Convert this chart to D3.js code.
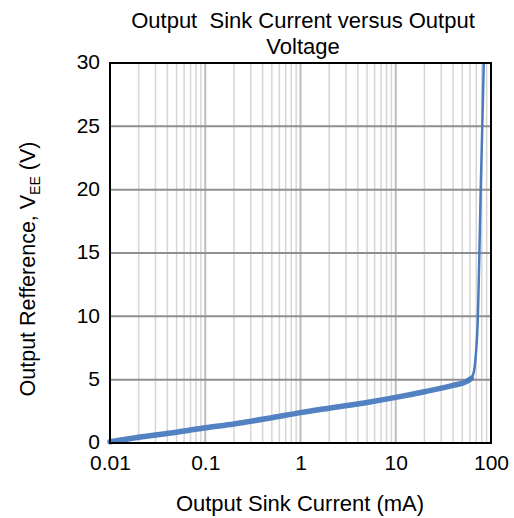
<!DOCTYPE html>
<html><head><meta charset="utf-8">
<script src="https://cdn.jsdelivr.net/npm/d3@7"></script>
<style>body{margin:0;background:#fff}svg{display:block}text{font-family:"Liberation Sans",Arial,sans-serif;fill:#000}</style>
</head><body>
<script>
const currentMA = [0.01,0.02,0.05,0.1,0.2,0.5,1,2,5,10,20,40,55,62,66,69,72,75,78,81,84];
const voltageV  = [0.1,0.45,0.85,1.2,1.5,2.0,2.4,2.75,3.2,3.6,4.05,4.55,4.85,5.1,5.6,6.8,9,14,20,25,30];
const xTicks = [0.01,0.1,1,10,100];
const xTickLabels = ["0.01","0.1","1","10","100"];
const yTicks = [0,5,10,15,20,25,30];
const titleLines = ["Output  Sink Current versus Output","Voltage"];
const xLabel = "Output Sink Current (mA)";

const W=514,H=518,L=110,R=491,T=63,B=443;
const svg=d3.select("body").append("svg").attr("width",W).attr("height",H);
const x=d3.scaleLog().domain([0.01,100]).range([L,R]);
const y=d3.scaleLinear().domain([0,30]).range([B,T]);

const minor=[];
for(let e=-2;e<2;e++){for(let m=2;m<=9;m++)minor.push(m*Math.pow(10,e));}
svg.append("g").selectAll("line").data(minor).join("line")
 .attr("x1",d=>x(d)).attr("x2",d=>x(d)).attr("y1",T).attr("y2",B)
 .attr("stroke","#d6d6d6").attr("stroke-width",1.5);
svg.append("g").selectAll("line").data(xTicks.slice(1,-1)).join("line")
 .attr("x1",d=>x(d)).attr("x2",d=>x(d)).attr("y1",T).attr("y2",B)
 .attr("stroke","#bdbdbd").attr("stroke-width",2);
svg.append("g").selectAll("line").data(yTicks.slice(1,-1)).join("line")
 .attr("x1",L).attr("x2",R).attr("y1",d=>y(d)).attr("y2",d=>y(d))
 .attr("stroke","#8f8f8f").attr("stroke-width",2);

const pts=currentMA.map((c,i)=>[c,voltageV[i]]);
const line=d3.line().x(d=>x(d[0])).y(d=>y(d[1])).curve(d3.curveMonotoneX);
const kneeIdx=13;
svg.append("path").datum(pts.slice(0,kneeIdx+1)).attr("d",line)
 .attr("fill","none").attr("stroke","#4a7bbf").attr("stroke-width",5.5).attr("stroke-linecap","round").attr("opacity",0.95);
svg.append("path").datum(pts.slice(kneeIdx-1)).attr("d",d3.line().x(d=>x(d[0])).y(d=>y(d[1])).curve(d3.curveCatmullRom))
 .attr("fill","none").attr("stroke","#4a7bbf").attr("stroke-width",2.5);

svg.append("rect").attr("x",L).attr("y",T).attr("width",R-L).attr("height",B-T)
 .attr("fill","none").attr("stroke","#000").attr("stroke-width",2);

const xa=d3.axisBottom(x).tickValues(xTicks).tickFormat((d,i)=>xTickLabels[i]).tickSize(0).tickPadding(12);
const gx=svg.append("g").attr("transform",`translate(0,${B})`).call(xa);
gx.select(".domain").remove();
gx.selectAll("text").attr("font-size",21).attr("font-family","Liberation Sans, Arial, sans-serif").attr("fill","#000");
const ya=d3.axisLeft(y).tickValues(yTicks).tickSize(0).tickPadding(10);
const gy=svg.append("g").attr("transform",`translate(${L},0)`).call(ya);
gy.select(".domain").remove();
gy.selectAll("text").attr("font-size",21).attr("font-family","Liberation Sans, Arial, sans-serif").attr("fill","#000").attr("dy","0.28em");

svg.selectAll(".title").data(titleLines).join("text").attr("class","title")
 .attr("xml:space","preserve").style("white-space","pre")
 .attr("x",303).attr("y",(d,i)=>28+i*26).attr("text-anchor","middle").attr("font-size",22).text(d=>d);
svg.append("text").attr("x",300).attr("y",511).attr("text-anchor","middle").attr("font-size",22).text(xLabel);
const yl=svg.append("text").attr("transform","translate(35,269) rotate(-90)").attr("text-anchor","middle").attr("font-size",21.5);
yl.append("tspan").text("Output Refference, V");
yl.append("tspan").attr("font-size",14).attr("dy",5).text("EE");
yl.append("tspan").attr("dy",-5).text(" (V)");
</script>
</body></html>
